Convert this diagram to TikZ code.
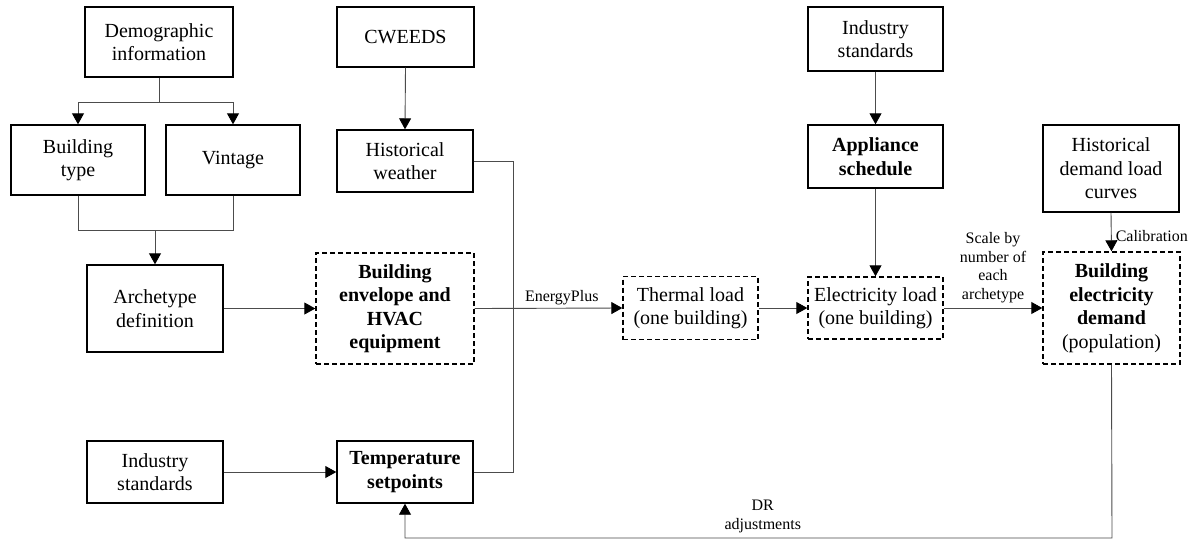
\documentclass[tikz,border=0pt]{standalone}
\usepackage{fontspec}
\setmainfont{Liberation Serif}
\usetikzlibrary{arrows.meta}
\begin{document}
\begin{tikzpicture}[x=1pt,y=-1pt,
  box/.style={draw=black, line width=1.4pt, align=center, inner sep=0pt, font=\fontsize{20}{23.5}\selectfont},
  dbox/.style={box, dash pattern=on 5pt off 3pt},
  conn/.style={draw=black!70, line width=0.9pt},
  arr/.style={conn, -{Triangle[length=11pt,width=12pt,color=black]}},
  lab/.style={font=\fontsize{16}{18.5}\selectfont, align=center, text=black, inner sep=2pt},
]
\useasboundingbox[fill=white] (0,0) rectangle (1194,542);
% left column
\node[box, minimum width=148pt, minimum height=70pt] (demo) at (159,42) {Demographic\\information};
\node[box, minimum width=134pt, minimum height=70pt] (btype) at (78,160) {Building\\type};
\node[box, minimum width=134pt, minimum height=70pt] (vint) at (233,160) {Vintage};
\node[box, minimum width=136pt, minimum height=87pt] (arche) at (155,308.5) {Archetype\\definition};
\node[box, minimum width=136pt, minimum height=62pt] (ind2) at (155,472) {Industry\\standards};
% second column
\node[box, minimum width=137pt, minimum height=60pt] (cweeds) at (405.5,37) {CWEEDS};
\node[box, minimum width=136pt, minimum height=62pt] (hw) at (405,161) {Historical\\weather};
\node[dbox, minimum width=158pt, minimum height=111pt] (env) at (395,308.5) {\textbf{Building}\\\textbf{envelope and}\\\textbf{HVAC}\\\textbf{equipment}};
\node[box, minimum width=136pt, minimum height=62pt] (temp) at (405,472) {\textbf{Temperature}\\\textbf{setpoints}};
% middle / right
\node[dbox, minimum width=135pt, minimum height=63pt] (therm) at (690.5,308) {Thermal load\\(one building)};
\node[box, minimum width=135pt, minimum height=64pt] (ind1) at (875.5,39) {Industry\\standards};
\node[box, minimum width=135pt, minimum height=63pt] (app) at (875.5,156.5) {\textbf{Appliance}\\\textbf{schedule}};
\node[dbox, minimum width=135pt, minimum height=62pt] (elec) at (875.5,308) {Electricity load\\(one building)};
\node[box, minimum width=136pt, minimum height=87pt] (hdlc) at (1111,168.5) {Historical\\demand load\\curves};
\node[dbox, minimum width=137pt, minimum height=112pt] (bed) at (1111.5,308) {\textbf{Building}\\\textbf{electricity}\\\textbf{demand}\\(population)};
% connectors
\coordinate (jd) at (159,102);
\draw[conn] (demo.south) -- (jd);
\draw[arr] (jd) -| (btype.north);
\draw[arr] (jd) -| (vint.north);
\coordinate (ja) at (155,230);
\draw[conn] (btype.south) |- (ja);
\draw[conn] (vint.south) |- (ja);
\draw[arr] (ja) -- (arche.north);
\draw[arr] (arche.east) -- (env.west);
\draw[arr] (ind2.east) -- (temp.west);
\draw[arr] (cweeds.south) -- (hw.north);
\coordinate (je) at (513,308.5);
\draw[conn] (hw.east) -| (je);
\draw[conn] (temp.east) -| (je);
\draw[arr] (env.east) -- node[lab, pos=0.59, above=1pt] (eplab) {EnergyPlus} (therm.west);
\draw[arr] (therm.east) -- (elec.west);
\draw[arr] (ind1.south) -- (app.north);
\draw[arr] (app.south) -- (elec.north);
\draw[arr] (elec.east) -- node[lab, above=3pt] (sclab) {Scale by\\number of\\each\\archetype} (bed.west);
\draw[arr] (hdlc.south) -- node[lab, right=2pt, pos=0.6] (callab) {Calibration} (bed.north);
\coordinate (jb) at (1112,538);
\draw[arr] (bed.south) -- (jb) -| node[lab, pos=0.247, above=3pt] (drlab) {DR\\adjustments} (temp.south);
\end{tikzpicture}
\end{document}
